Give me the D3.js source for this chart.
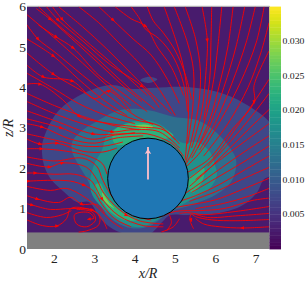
<!DOCTYPE html>
<html><head><meta charset="utf-8">
<script src="https://cdn.jsdelivr.net/npm/d3@7/dist/d3.min.js"></script>
<style>html,body{margin:0;padding:0;background:#fff;overflow:hidden}svg{display:block}text{font-family:"Liberation Serif",serif;fill:#222}</style>
</head><body><svg id="c" width="307" height="283"></svg>
<script>
const xTicks=[2,3,4,5,6,7];
const zTicks=[0,1,2,3,4,5,6];
const cbTicks=[0.005,0.010,0.015,0.020,0.025,0.030];
const backgroundLevel=0.0025;
const band1Level=0.0075, band2Level=0.0125, band3Level=0.0175, band4Level=0.0225, band5Level=0.0275;
const islandBand1=[[4.13,4.18],[4.3,4.26],[4.55,4.2],[4.35,4.11]];
const band1=[[1.69,2.45],[1.72,2.7],[2.06,3.37],[2.64,3.81],[3.38,4.06],[3.95,3.96],[4.47,3.99],[5.29,4.01],[6.03,3.89],[6.7,3.61],[7.4,3.05],[7.5,2.4],[7.4,1.83],[7.2,1.73],[7.03,1.41],[6.78,1.16],[6.46,.99],[5.96,.87],[5.29,.84],[4.87,.84],[4.72,.72],[4.47,.45],[4.37,.38],[3.73,.38],[3.38,.54],[3.13,.77],[2.86,1.16],[2.56,1.16],[2.24,1.41],[1.89,1.76],[1.74,2.08]];
const band2=[[2.44,2.65],[2.71,2.95],[2.98,3.12],[3.63,3.44],[4.3,3.44],[4.97,3.27],[5.54,3.19],[6.03,2.87],[6.46,2.33],[6.51,2.08],[6.38,1.66],[6.03,1.36],[5.46,1.11],[4.87,.92],[4.37,.57],[3.88,.52],[3.38,.77],[3.13,1.09],[2.96,1.41],[2.81,1.73],[2.56,2.15],[2.44,2.4]];
const band3=[[3.18,2.45],[3.3,2.82],[3.8,3.12],[4.3,3.19],[4.72,3.02],[5.04,2.7],[5.22,2.62],[5.54,2.65],[5.86,2.4],[5.98,2.08],[6.03,1.83],[5.86,1.51],[5.37,1.21],[4.87,.92],[4.3,.59],[4.05,.54],[3.63,.67],[3.3,.92],[2.98,1.26],[2.88,1.58],[2.98,2.08]];
const band4Top=[[3.45,2.9],[3.75,3.09],[4.3,3.12],[4.74,2.97],[4.95,2.8],[4.6,2.7],[3.9,2.6],[3.5,2.6]];
const band4Right=[[5.54,1.91],[5.71,2.0],[5.66,1.66],[5.41,1.39],[5.32,1.71]];
const band4Left=[[3.01,1.58],[3.13,1.63],[3.26,1.39],[3.48,1.09],[3.8,.84],[4.05,.72],[3.73,.72],[3.38,.92],[3.13,1.26]];
const band5Top=[[4.0,3.04],[4.25,3.08],[4.45,3.02],[4.2,2.97]];
const band5Left=[[3.18,1.39],[3.35,1.16],[3.48,1.01],[3.35,1.09],[3.23,1.21]];
const cylinder={x:4.32,z:1.745,r:1};
const wallTop=0.41;
const velocityArrow=[[4.32,1.72],[4.32,2.45]];
const streamlines=[
[[1.6,6],[2.2,5.45],[2.8,4.95],[3.4,4.4],[4,3.85],[4.5,3.45]],
[[2.1,6],[2.7,5.5],[3.3,4.95],[3.9,4.35],[4.5,3.75],[4.9,3.35]],
[[2.6,6],[3.1,5.6],[3.6,5.1],[4.1,4.6],[4.6,3.95],[5,3.3]],
[[3.1,6],[3.45,5.67],[3.95,5.2],[4.4,4.8],[4.8,4.2],[5.1,3.6]],
[[3.5,6],[3.9,5.7],[4.25,5.52],[4.55,5],[4.9,4.5],[5.2,3.8]],
[[3.9,6],[4.1,5.72],[4.25,5.45],[4.6,5.2],[4.95,4.75],[5.2,4.1],[5.3,3.4]],
[[4.3,6],[4.45,5.65],[4.7,5.35],[5,4.9],[5.25,4.3],[5.4,3.7]],
[[4.72,6],[5,5.2],[5.2,4.5],[5.32,3.6],[5.3,2.9],[5.24,2.2]],
[[4.97,6],[5.3,5.1],[5.45,4.4],[5.42,3.4],[5.3,2.6]],
[[5.24,6],[5.5,5.2],[5.62,4.4],[5.58,3.6],[5.42,2.8],[5.26,2.15]],
[[5.66,6],[5.79,5.17],[5.75,4.3],[5.65,3.4],[5.4,2.5]],
[[5.9,6],[5.88,5.1],[5.85,4.2],[5.7,3.2]],
[[6.15,6],[6.05,5],[5.95,4.2],[5.75,3.25],[5.5,2.55],[5.26,2.1]],
[[6.43,6],[6.3,5],[6.1,4.1],[5.85,3.2],[5.55,2.5]],
[[6.72,6],[6.5,5],[6.2,4],[5.85,3.05],[5.4,2.25]],
[[6.98,6],[6.75,5.1],[6.4,4.1],[6,3.15],[5.6,2.45]],
[[7.2,6],[7,5.1],[6.6,4.1],[6.1,3.15],[5.62,2.4],[5.28,2.05]],
[[7.32,5.6],[7.1,4.8],[6.8,4],[6.3,3.1],[5.7,2.3]],
[[7.32,4.9],[6.95,4.05],[6.95,3.64],[6.4,2.95],[5.8,2.2],[5.3,1.9]],
[[7.32,4.2],[6.95,3.64],[6.4,2.85],[5.9,2.2],[5.35,1.75]],
[[7.32,3.85],[6.9,3.3],[6.4,2.7],[5.8,2.05]],
[[7.32,3.45],[6.8,2.95],[6.3,2.45],[5.8,1.95],[5.35,1.55]],
[[7.32,3.1],[6.7,2.65],[6.1,2.2],[5.5,1.72]],
[[7.32,2.8],[6.7,2.4],[6.1,1.98],[5.5,1.55],[5.2,1.35]],
[[7.32,2.55],[6.6,2.1],[6,1.75],[5.4,1.4]],
[[7.32,2.3],[6.7,1.95],[6.1,1.6],[5.5,1.32],[5.1,1.18]],
[[7.32,2.02],[6.6,1.7],[6,1.42],[5.35,1.18]],
[[7.32,1.75],[6.6,1.45],[6,1.22],[5.4,1.1],[4.95,1.02]],
[[7.32,1.5],[6.8,1.3],[6.2,1.13],[5.5,1]],
[[7.32,1.26],[6.9,1.2],[6.2,1],[5.6,.95],[5,.93],[4.6,.78]],
[[7.32,1.05],[6.5,.93],[5.7,.85],[5.3,.9],[5.1,.88]],
[[7.32,.88],[6.5,.82],[5.8,.78],[5.5,.86]],
[[7.32,.73],[6.5,.7],[5.9,.72],[5.5,.8],[5.39,.86],[5.36,.72],[5.45,.5]],
[[7.32,.55],[6.66,.52],[6.1,.55],[5.7,.62],[5.5,.75]],
[[5.1,.75],[4.95,.55],[4.65,.42]],
[[4.85,.85],[4.9,.65],[4.78,.45]],
[[1.32,5.8],[1.89,5.32],[2.7,4.6],[3.3,4.05],[3.9,3.55]],
[[1.55,5.95],[1.89,5.69],[2.6,5.05],[3.2,4.5],[3.8,3.95],[4.17,3.65]],
[[1.8,6],[2.09,5.67],[2.7,5.15],[3.4,4.55],[4.17,4.03],[4.6,3.5]],
[[1.95,6],[2.19,5.69],[2.9,5.05],[3.6,4.45],[4.3,3.8]],
[[1.32,5.55],[1.59,5.2],[2.04,4.85],[2.7,4.3],[3.4,3.75],[4,3.3],[4.45,3.08]],
[[1.6,5.55],[2.04,5.25],[2.46,4.98],[3.1,4.3],[3.7,3.85],[4.3,3.4]],
[[1.32,5.2],[1.97,4.78],[2.6,4.2],[3.2,3.7],[3.8,3.3]],
[[1.32,4.85],[1.97,4.33],[2.7,3.9],[3.4,3.45],[4,3.2],[4.6,3.05],[5,2.7]],
[[1.32,4.55],[1.72,4.26],[2.44,4.16],[3,3.72],[3.35,3.91],[3.9,3.4]],
[[1.32,4.35],[1.97,3.98],[2.6,3.6],[3.3,3.3],[4,3.1]],
[[1.32,4.08],[1.64,4.08],[2.2,3.7],[2.61,3.29],[3.4,3.1],[4.1,3.02],[4.7,2.95],[5.1,2.6]],
[[1.32,3.85],[2,3.55],[2.8,3.25],[3.5,3.05],[4.1,2.95]],
[[1.32,3.65],[2,3.35],[2.7,3.1],[3.43,2.9],[3.9,2.95],[4.6,2.9],[5.1,2.5]],
[[1.32,3.42],[2,3.18],[2.96,2.85],[3.7,2.85],[4.3,2.85],[4.9,2.62],[5.2,2.3]],
[[1.32,3.22],[2.16,3],[2.9,2.72],[3.5,2.82],[4,2.88]],
[[1.32,3.1],[1.69,3.02],[2.4,2.72],[3,2.62],[3.55,2.75],[4.2,2.8]],
[[1.32,2.85],[2,2.7],[2.7,2.55],[3.25,2.55],[3.7,2.65]],
[[1.32,2.72],[1.64,2.6],[2.06,2.62],[2.7,2.42],[3.2,2.4],[3.55,2.5]],
[[1.32,2.48],[1.67,2.48],[2.3,2.42],[2.9,2.28],[3.2,2.1],[3.3,1.85]],
[[1.32,2.28],[2,2.18],[2.7,2.25],[3.05,2.05],[3.2,1.7],[3.5,1.2],[3.9,.85],[4.4,.72]],
[[1.32,2.12],[1.87,2.03],[2.19,2.13],[2.8,2.02],[3.05,1.72],[3.2,1.42],[3.6,.98],[4.1,.7],[4.7,.62]],
[[1.32,1.88],[1.52,1.88],[2,1.85],[2.5,1.85],[2.9,1.7],[3.18,1.24],[3.6,.82],[4.2,.58],[4.7,.55]],
[[1.35,1.68],[1.9,1.7],[2.4,1.68],[2.73,1.58],[2.98,1.42],[3.18,1.1],[3.5,.75],[3.9,.55]],
[[1.32,1.55],[1.9,1.45],[2.3,1.5],[2.8,1.25],[3.1,1],[3.4,.7],[3.7,.5]],
[[1.32,1.32],[1.57,1.24],[2.1,1.15],[2.4,1.28],[2.68,1.11],[3.05,1.1],[3.25,.88]],
[[1.32,1.12],[1.44,1.09],[1.9,.98],[2.4,1],[2.93,.97],[3.18,.75],[3.3,.5]],
[[1.32,.9],[1.8,.78],[2.2,.85],[2.42,.95]],
[[1.32,.72],[1.7,.58],[2.06,.57],[2.3,.75],[2.4,1],[2.7,1.02],[3.1,.85],[3.1,.6],[2.8,.45],[2.6,.42]],
[[2.55,.98],[2.93,.92],[3.02,.72],[2.8,.55],[2.55,.62],[2.5,.85],[2.86,.9],[2.98,.76],[2.86,.74]]
];
const arrows=[[1.89,5.69],[2.09,5.67],[2.19,5.69],[3.45,5.67],[4.25,5.52],[1.59,5.2],[2.04,5.25],[2.46,4.98],[1.97,4.78],[1.72,4.26],[1.97,4.33],[2.44,4.16],[1.64,4.08],[3.35,3.91],[4.17,4.03],[2.61,3.29],[1.69,3.02],[2.16,3],[2.96,2.85],[3.43,2.9],[5.79,5.17],[6.95,3.64],[1.64,2.6],[1.67,2.48],[2.06,2.62],[1.87,2.03],[2.19,2.13],[1.52,1.88],[1.35,1.68],[2.73,1.58],[1.57,1.24],[1.44,1.09],[2.68,1.11],[2.93,.97],[2.86,.74],[2.06,.57],[3.18,1.24],[3.78,.84],[5.39,.72],[6.66,.52]];

const svg=d3.select("#c");
const x=d3.scaleLinear().domain([1.32,7.32]).range([27,269]);
const z=d3.scaleLinear().domain([0,6]).range([249,6.6]);
const color=d3.scaleSequential(d3.interpolateViridis).domain([0,0.035]);
const cbY=d3.scaleLinear().domain([0,0.035]).range([249,6.6]);

const defs=svg.append("defs");
defs.append("clipPath").attr("id","p").append("rect").attr("x",27).attr("y",6.6).attr("width",242).attr("height",242.4);
const g=svg.append("g").attr("clip-path","url(#p)");
g.append("rect").attr("x",27).attr("y",6.6).attr("width",242).attr("height",242.4).attr("fill",color(backgroundLevel));
const area=d3.line().x(d=>x(d[0])).y(d=>z(d[1])).curve(d3.curveCatmullRomClosed.alpha(0.5));
[[islandBand1,band1Level],[band1,band1Level],[band2,band2Level],[band3,band3Level],[band4Top,band4Level],[band4Right,band4Level],[band4Left,band4Level],[band5Top,band5Level],[band5Left,band5Level]]
 .forEach(([p,v])=>g.append("path").attr("d",area(p)).attr("fill",color(v)));
g.append("rect").attr("x",27).attr("y",z(wallTop)).attr("width",242).attr("height",z(0)-z(wallTop)).attr("fill","#808080");

const line=d3.line().x(d=>x(d[0])).y(d=>z(d[1])).curve(d3.curveCatmullRom.alpha(0.5));
g.selectAll("path.s").data(streamlines).join("path").attr("class","s").attr("d",line).attr("fill","none").attr("stroke","#f00").attr("stroke-width",0.9);

function nearest(a){
  const px=x(a[0]),py=z(a[1]);let best=null,bd=1e9;
  streamlines.forEach(l=>{for(let i=0;i<l.length-1;i++){
    const ax=x(l[i][0]),ay=z(l[i][1]),bx=x(l[i+1][0]),by=z(l[i+1][1]);
    const dx=bx-ax,dy=by-ay,t=Math.max(0,Math.min(1,((px-ax)*dx+(py-ay)*dy)/(dx*dx+dy*dy)));
    const qx=ax+t*dx,qy=ay+t*dy,dd=(qx-px)**2+(qy-py)**2;
    if(dd<bd){bd=dd;best={x:px,y:py,a:Math.atan2(dy,dx)*180/Math.PI};}
  }});
  return best;
}
g.selectAll("path.a").data(arrows.map(nearest)).join("path").attr("class","a")
 .attr("d","M2.4,0L-1.6,1.7L-1.6,-1.7Z").attr("fill","#f00")
 .attr("transform",d=>`translate(${d.x},${d.y}) rotate(${d.a})`);

const rpx=x(cylinder.x+cylinder.r)-x(cylinder.x);
svg.append("circle").attr("cx",x(cylinder.x)).attr("cy",z(cylinder.z)).attr("r",rpx).attr("fill","#1f77b4").attr("stroke","#000").attr("stroke-width",1);
svg.append("line").attr("x1",x(velocityArrow[0][0])).attr("x2",x(velocityArrow[1][0])).attr("y1",z(velocityArrow[0][1])).attr("y2",z(velocityArrow[1][1])-3).attr("stroke","#ffc0cb").attr("stroke-width",1.8);
svg.append("path").attr("transform",`translate(${x(velocityArrow[1][0])},${z(velocityArrow[1][1])})`).attr("d","M0,-1.5L3.2,4L0,2.8L-3.2,4Z").attr("fill","#ffc0cb");

svg.append("path").attr("d",`M27,6.3H269.5V249`).attr("fill","none").attr("stroke","#999").attr("stroke-width",0.8);

// colourbar
const steps=d3.range(0,0.035,0.0005);
svg.selectAll("rect.cb").data(steps).join("rect").attr("class","cb").attr("x",269.5).attr("width",11.5)
 .attr("y",d=>cbY(d+0.0005)).attr("height",d=>cbY(d)-cbY(d+0.0005)+0.4).attr("fill",d=>color(d+0.00025));
svg.selectAll("text.cb").data(cbTicks).join("text").attr("class","cb").attr("x",282.5).attr("y",d=>cbY(d)+3)
 .attr("font-size",9).attr("textLength",22).attr("lengthAdjust","spacingAndGlyphs").text(d=>d.toFixed(3));

svg.selectAll("text.xt").data(xTicks).join("text").attr("class","xt").attr("x",d=>x(d)).attr("y",263).attr("text-anchor","middle").attr("font-size",13.5).text(d=>d);
svg.selectAll("text.zt").data(zTicks).join("text").attr("class","zt").attr("x",22.5).attr("y",d=>z(d)+4.5).attr("text-anchor","middle").attr("font-size",13.5).text(d=>d);
svg.append("text").attr("x",148).attr("y",278).attr("text-anchor","middle").attr("font-size",14).attr("font-style","italic").text("x/R");
svg.append("text").attr("transform","translate(13,128) rotate(-90)").attr("text-anchor","middle").attr("font-size",14).attr("font-style","italic").text("z/R");
</script></body></html>
